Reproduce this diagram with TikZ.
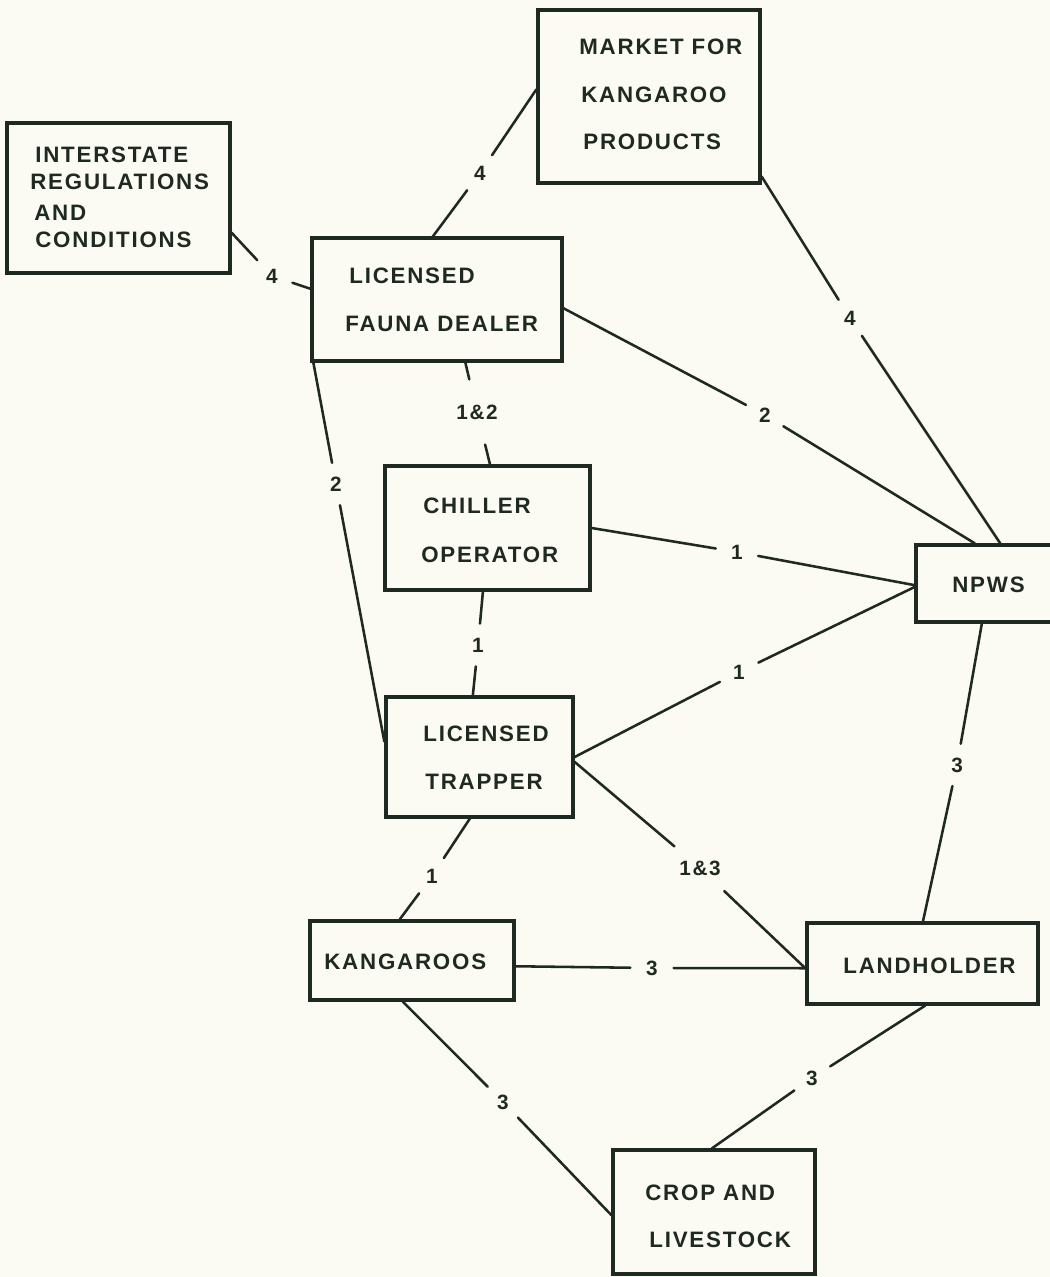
\documentclass[tikz,border=0pt]{standalone}
\usepackage{fontspec}
\setmainfont{Liberation Sans}[LetterSpace=8]
\usetikzlibrary{calc}
\definecolor{bg}{RGB}{252,251,243}
\definecolor{ink}{RGB}{30,42,33}
\tikzset{
  bx/.style 2 args={draw=ink, line width=1.9pt, rectangle, minimum width=#1*0.02cm, minimum height=#2*0.02cm, inner sep=0pt},
  txt/.style={anchor=base west, inner sep=0pt, text=ink, font=\fontsize{12.7}{15}\selectfont\bfseries},
  lab/.style={circle, inner sep=0.17cm, text=ink, font=\fontsize{11.8}{14}\selectfont\bfseries},
  conn/.style={draw=ink, line width=1.45pt, line cap=round}
}
\begin{document}
\begin{tikzpicture}[x=0.02cm,y=-0.02cm]
\useasboundingbox (0,0) rectangle (1050,1277);
\clip (0,0) rectangle (1050,1277);
\fill[bg] (0,0) rectangle (1050,1277);

% boxes
\node[bx={222}{173}] (market) at (649,96.5) {};
\node[bx={223}{150}] (inter) at (118.5,198) {};
\node[bx={250}{123}] (dealer) at (437,299.5) {};
\node[bx={205}{124}] (chiller) at (487.5,528) {};
\node[bx={144}{77}] (npws) at (988,583.5) {};
\node[bx={187}{120}] (trapper) at (479.5,757) {};
\node[bx={204}{79}] (kang) at (412,960.5) {};
\node[bx={231}{81}] (land) at (922.5,963.5) {};
\node[bx={202}{124}] (crop) at (714,1212) {};

% texts
\node[txt] (market1) at (579,55) {MARKET FOR};
\node[txt] (market2) at (581,103) {KANGAROO};
\node[txt] (market3) at (583,150) {PRODUCTS};
\node[txt] (inter1) at (35,163) {INTERSTATE};
\node[txt] (inter2) at (30,190) {REGULATIONS};
\node[txt] (inter3) at (34,220) {AND};
\node[txt] (inter4) at (35,247) {CONDITIONS};
\node[txt] (dealer1) at (349,283) {LICENSED};
\node[txt] (dealer2) at (345,331) {FAUNA DEALER};
\node[txt] (chiller1) at (423,513) {CHILLER};
\node[txt] (chiller2) at (421,562) {OPERATOR};
\node[txt] (npws1) at (952,592) {NPWS};
\node[txt] (trapper1) at (423,741) {LICENSED};
\node[txt] (trapper2) at (425,789) {TRAPPER};
\node[txt] (kang1) at (324,969) {KANGAROOS};
\node[txt] (land1) at (843,973) {LANDHOLDER};
\node[txt] (crop1) at (645,1200) {CROP AND};
\node[txt] (crop2) at (649,1247) {LIVESTOCK};

% labels
\node[lab] (l1) at (480,173) {4};
\node[lab] (l2) at (272,276) {4};
\node[lab] (l3) at (850,318) {4};
\node[lab] (l4) at (765,415) {2};
\node[lab] (l5) at (477,412) {1\&2};
\node[lab] (l6) at (336,484) {2};
\node[lab] (l7) at (737,552) {1};
\node[lab] (l8) at (478,645) {1};
\node[lab] (l9) at (739,672) {1};
\node[lab] (l10) at (957,765) {3};
\node[lab] (l11) at (432,876) {1};
\node[lab] (l12) at (700,868) {1\&3};
\node[lab] (l13) at (652,968) {3};
\node[lab] (l14) at (503,1102) {3};
\node[lab] (l15) at (812,1078) {3};

% connectors
\draw[conn] ($(dealer.north west)!0.484!(dealer.north east)$) -- (l1);
\draw[conn] (l1) -- ($(market.north west)!0.46!(market.south west)$);

\draw[conn] ($(inter.north east)!0.727!(inter.south east)$) -- (l2);
\draw[conn] (l2) -- ($(dealer.north west)!0.415!(dealer.south west)$);

\draw[conn] ($(market.north east)!0.954!(market.south east)$) -- (l3);
\draw[conn] (l3) -- ($(npws.north west)!0.583!(npws.north east)$);

\draw[conn] ($(dealer.north east)!0.57!(dealer.south east)$) -- (l4);
\draw[conn] (l4) -- ($(npws.north west)!0.41!(npws.north east)$);

\draw[conn] ($(dealer.south west)!0.612!(dealer.south east)$) -- (l5);
\draw[conn] (l5) -- ($(chiller.north west)!0.512!(chiller.north east)$);

\draw[conn] ($(dealer.south west)!0.012!(dealer.south east)$) -- (l6);
\draw[conn] (l6) -- ($(trapper.north west)!0.375!(trapper.south west)$);

\draw[conn] (chiller.east) -- (l7);
\draw[conn] (l7) -- ($(npws.north west)!0.52!(npws.south west)$);

\draw[conn] ($(chiller.south west)!0.478!(chiller.south east)$) -- (l8);
\draw[conn] (l8) -- ($(trapper.north west)!0.465!(trapper.north east)$);

\draw[conn] (trapper.east) -- (l9);
\draw[conn] (l9) -- ($(npws.north west)!0.545!(npws.south west)$);

\draw[conn] ($(npws.south west)!0.458!(npws.south east)$) -- (l10);
\draw[conn] (l10) -- ($(land.north west)!0.502!(land.north east)$);

\draw[conn] ($(trapper.south west)!0.449!(trapper.south east)$) -- (l11);
\draw[conn] (l11) -- ($(kang.north west)!0.441!(kang.north east)$);

\draw[conn] ($(trapper.north east)!0.54!(trapper.south east)$) -- (l12);
\draw[conn] (l12) -- ($(land.north west)!0.556!(land.south west)$);

\draw[conn] ($(kang.north east)!0.57!(kang.south east)$) -- (l13);
\draw[conn] (l13) -- ($(land.north west)!0.556!(land.south west)$);

\draw[conn] ($(kang.south west)!0.456!(kang.south east)$) -- (l14);
\draw[conn] (l14) -- ($(crop.north west)!0.524!(crop.south west)$);

\draw[conn] ($(land.south west)!0.511!(land.south east)$) -- (l15);
\draw[conn] (l15) -- ($(crop.north west)!0.49!(crop.north east)$);
\end{tikzpicture}
\end{document}
